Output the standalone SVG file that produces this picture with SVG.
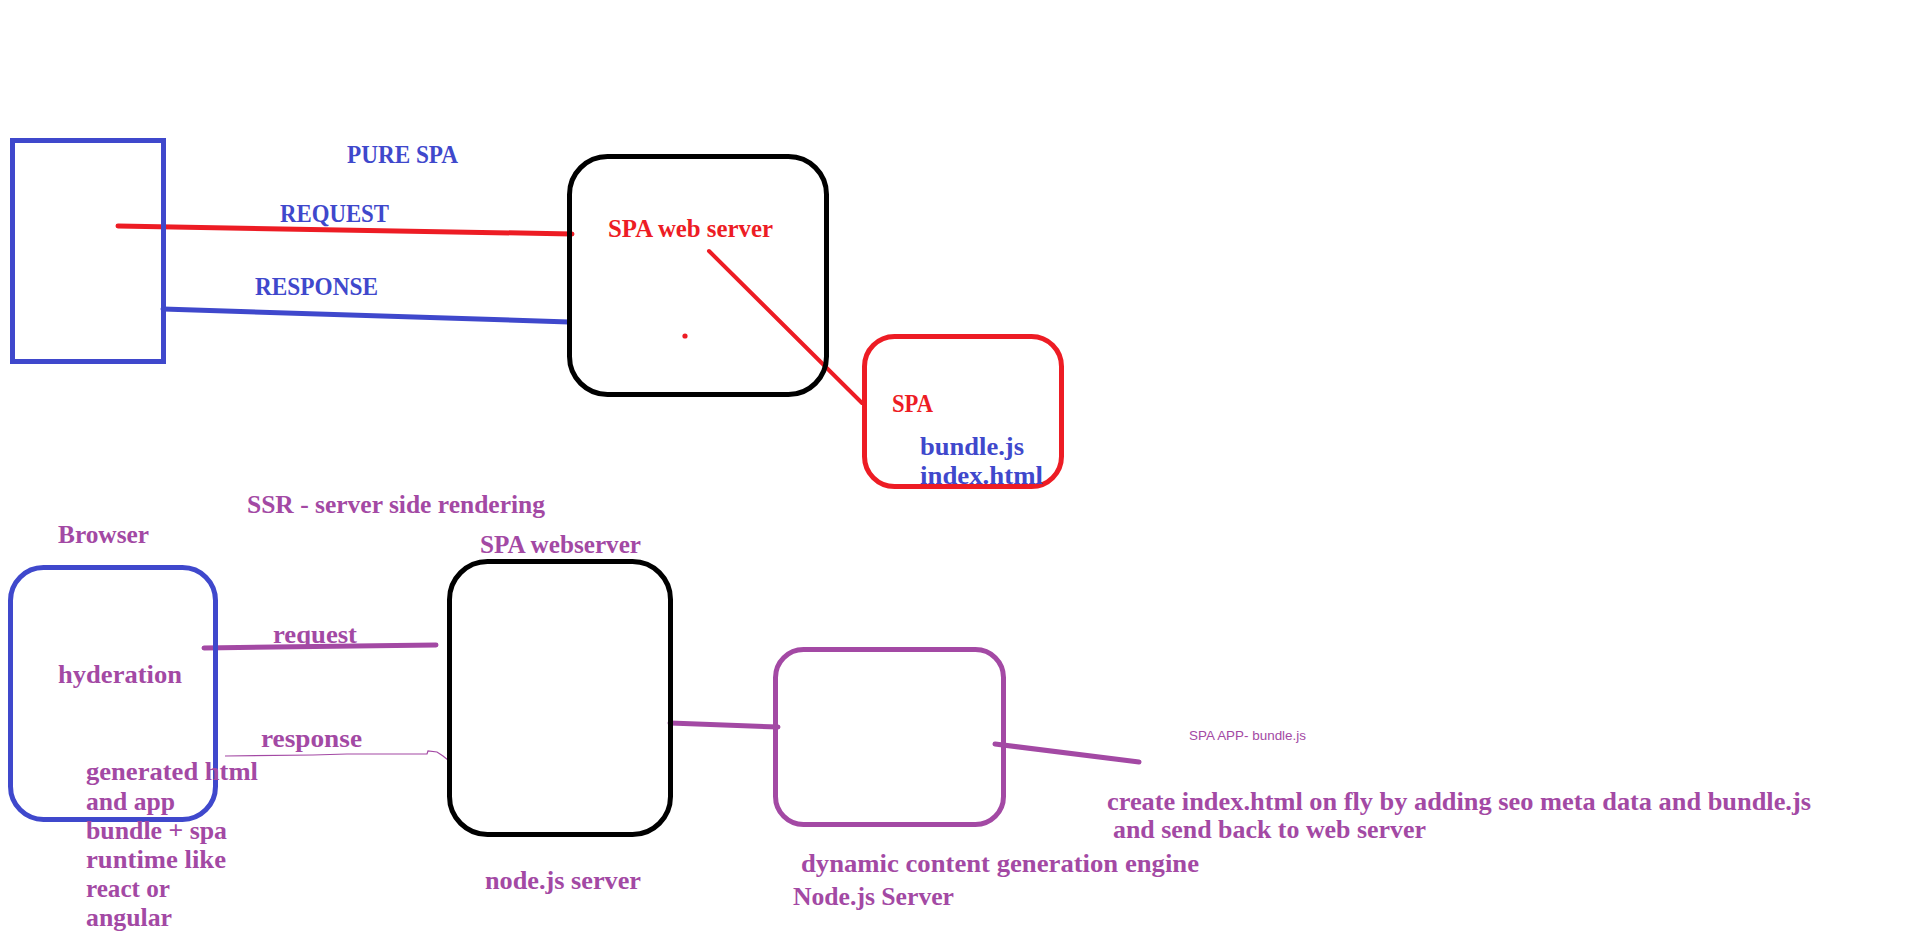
<svg xmlns="http://www.w3.org/2000/svg" width="1917" height="952" viewBox="0 0 1917 952">
<style>
.t{font-family:"Liberation Serif","DejaVu Serif",serif;font-weight:bold;font-size:25px}
.blue{fill:#3f48cc}.red{fill:#ed1c24}.pur{fill:#a349a4}
.box{fill:none;stroke-width:5}
.ln{fill:none;stroke-width:5;stroke-linecap:round}
.small{font-family:"Liberation Sans","DejaVu Sans",sans-serif;font-size:13px;fill:#a349a4}
</style>
<rect width="1917" height="952" fill="#ffffff"/>

<g id="connectors">
  <line class="ln" x1="118" y1="226" x2="572" y2="234" stroke="#ed1c24"/>
  <line class="ln" x1="163" y1="309" x2="569" y2="322" stroke="#3f48cc"/>
  <line x1="709" y1="251" x2="862" y2="403" stroke="#ed1c24" stroke-width="4" stroke-linecap="round"/>
  <line class="ln" x1="204" y1="648" x2="436" y2="645" stroke="#a349a4"/>
  <path d="M225,756 L313,755 L347,754 L427,754 L428,751 L437,752 L443,756 L448,760" fill="none" stroke="#a349a4" stroke-width="1.2"/>
  <line class="ln" x1="670" y1="723" x2="778" y2="727" stroke="#a349a4"/>
  <line class="ln" x1="995" y1="744" x2="1139" y2="762" stroke="#a349a4"/>
</g>

<g id="client-box">
  <rect class="box" x="12.5" y="140.5" width="151" height="221" stroke="#3f48cc"/>
</g>

<g id="spa-web-server">
  <rect class="box" x="569.5" y="156.5" width="257" height="238" rx="38" ry="38" stroke="#000000"/>
  <text class="t red" x="608" y="237" textLength="165" lengthAdjust="spacingAndGlyphs">SPA web server</text>
  <circle cx="685" cy="336" r="2.6" fill="#ed1c24"/>
</g>

<g id="spa-box">
  <rect class="box" x="864.5" y="336.5" width="197" height="150" rx="30" ry="30" stroke="#ed1c24"/>
  <text class="t red" x="892" y="412" textLength="41" lengthAdjust="spacingAndGlyphs">SPA</text>
  <text class="t blue" x="920" y="455" textLength="104" lengthAdjust="spacingAndGlyphs">bundle.js</text>
  <text class="t blue" x="920" y="484" textLength="123" lengthAdjust="spacingAndGlyphs">index.html</text>
</g>

<g id="top-labels">
  <text class="t blue" x="347" y="163" textLength="111" lengthAdjust="spacingAndGlyphs">PURE SPA</text>
  <text class="t blue" x="280" y="222" textLength="109" lengthAdjust="spacingAndGlyphs">REQUEST</text>
  <text class="t blue" x="255" y="295" textLength="123" lengthAdjust="spacingAndGlyphs">RESPONSE</text>
</g>

<g id="browser">
  <rect class="box" x="10.5" y="567.5" width="205" height="252" rx="33" ry="33" stroke="#3f48cc"/>
  <text class="t pur" x="58" y="543" textLength="91" lengthAdjust="spacingAndGlyphs">Browser</text>
  <text class="t pur" x="58" y="683" textLength="124" lengthAdjust="spacingAndGlyphs">hyderation</text>
  <text class="t pur" x="86" y="780" textLength="172" lengthAdjust="spacingAndGlyphs">generated html</text>
  <text class="t pur" x="86" y="810" textLength="89" lengthAdjust="spacingAndGlyphs">and app</text>
  <text class="t pur" x="86" y="839" textLength="141" lengthAdjust="spacingAndGlyphs">bundle + spa</text>
  <text class="t pur" x="86" y="868" textLength="140" lengthAdjust="spacingAndGlyphs">runtime like</text>
  <text class="t pur" x="86" y="897" textLength="84" lengthAdjust="spacingAndGlyphs">react or</text>
  <text class="t pur" x="86" y="926" textLength="86" lengthAdjust="spacingAndGlyphs">angular</text>
</g>

<g id="ssr-web-server">
  <rect class="box" x="449.5" y="561.5" width="221" height="273" rx="38" ry="38" stroke="#000000"/>
  <text class="t pur" x="480" y="553" textLength="161" lengthAdjust="spacingAndGlyphs">SPA webserver</text>
  <text class="t pur" x="485" y="889" textLength="156" lengthAdjust="spacingAndGlyphs">node.js server</text>
</g>

<g id="nodejs-server">
  <rect class="box" x="775.5" y="649.5" width="228" height="175" rx="28" ry="28" stroke="#a349a4"/>
  <text class="t pur" x="801" y="872" textLength="398" lengthAdjust="spacingAndGlyphs">dynamic content generation engine</text>
  <text class="t pur" x="793" y="905" textLength="161" lengthAdjust="spacingAndGlyphs">Node.js Server</text>
</g>

<g id="bottom-labels">
  <text class="t pur" x="247" y="513" textLength="298" lengthAdjust="spacingAndGlyphs">SSR - server side rendering</text>
  <text class="t pur" x="273" y="643" textLength="84" lengthAdjust="spacingAndGlyphs">request</text>
  <text class="t pur" x="261" y="747" textLength="101" lengthAdjust="spacingAndGlyphs">response</text>
  <text class="small" x="1189" y="740" textLength="117" lengthAdjust="spacingAndGlyphs">SPA APP- bundle.js</text>
  <text class="t pur" x="1107" y="810" textLength="704" lengthAdjust="spacingAndGlyphs">create index.html on fly by adding seo meta data and bundle.js</text>
  <text class="t pur" x="1113" y="838" textLength="313" lengthAdjust="spacingAndGlyphs">and send back to web server</text>
</g>
</svg>
